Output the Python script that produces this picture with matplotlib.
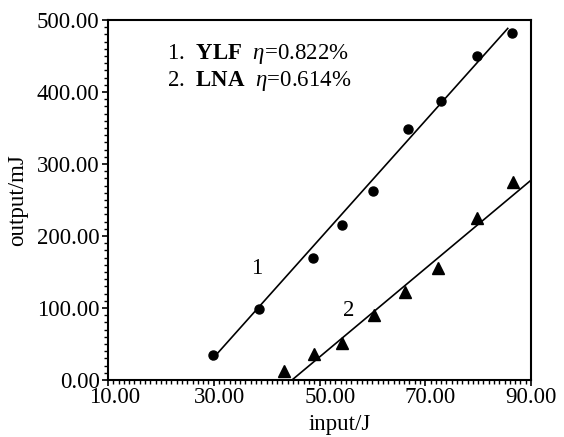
import matplotlib as mpl
mpl.use("Agg")
import matplotlib.pyplot as plt
import matplotlib.transforms as mtransforms
import numpy as np
from matplotlib.ticker import MultipleLocator, FormatStrFormatter


# Data
inputYLF = [29.8, 38.5, 48.8, 54.2, 60.1, 66.7, 73.0, 79.8, 86.4]
outputYLF = [35, 99, 169, 215, 262, 348, 387, 450, 482]

inputLNA = [43.3, 48.9, 54.2, 60.3, 66.1, 72.5, 79.8, 86.6]
outputLNA = [12, 36, 51, 90, 122, 156, 225, 275]

# fitted lines: slope in mJ/J, threshold in J, drawn range in J
slopeYLF, thresholdYLF, rangeYLF = 8.22, 26.2, [29.7, 85.6]
slopeLNA, thresholdLNA, rangeLNA = 6.14, 44.8, [44.8, 90.0]

xTicks = [10, 30, 50, 70, 90]
yTicks = [0, 100, 200, 300, 400, 500]


plt.rcParams['font.family'] = ['Liberation Serif', 'DejaVu Serif']
plt.rcParams['mathtext.fontset'] = 'custom'
plt.rcParams['mathtext.rm'] = 'Liberation Serif'
plt.rcParams['mathtext.it'] = 'Liberation Serif:italic'
plt.rcParams['mathtext.bf'] = 'Liberation Serif:bold'

fig = plt.figure(figsize=(5.64, 4.37), dpi=100)
ax = fig.add_axes([108/564, 1-380/437, 423/564, 360/437])

#points
ax.plot(inputYLF, outputYLF, 'o', color='black', markersize=6.5, clip_on=False)
ax.plot(inputLNA, outputLNA, '^', color='black', markersize=8.5, clip_on=False)

#fit lines
xLine = np.array(rangeYLF)
ax.plot(xLine, slopeYLF*(xLine - thresholdYLF), '-', color='black', linewidth=1.2)
xLine = np.array(rangeLNA)
ax.plot(xLine, slopeLNA*(xLine - thresholdLNA), '-', color='black', linewidth=1.2)

ax.set_xlim(10, 90)
ax.set_ylim(0, 500)
ax.set_xticks(xTicks)
ax.set_yticks(yTicks)
ax.xaxis.set_minor_locator(MultipleLocator(1))
ax.yaxis.set_minor_locator(MultipleLocator(10))
ax.xaxis.set_major_formatter(FormatStrFormatter('%.2f'))
ax.yaxis.set_major_formatter(FormatStrFormatter('%.2f'))

ax.tick_params(which='major', direction='out', length=4.5, width=1.2,
               labelsize=16.5, pad=1.5, colors='black')
ax.tick_params(axis='x', which='major', pad=0.5)
ax.tick_params(which='minor', direction='out', length=3, width=1.0)

# the scanned labels sit a little right of their ticks
labelShift = [7, 6, 11, 5, 0]
for lbl, dx in zip(ax.get_xticklabels(), labelShift):
    lbl.set_transform(lbl.get_transform() +
                      mtransforms.ScaledTranslation(dx/100, 0, fig.dpi_scale_trans))
#end-for

for spine in ax.spines.values():
    spine.set_linewidth(1.5)
#end-for

ax.set_xlabel('input/J', fontsize=16.5, labelpad=0)
ax.xaxis.set_label_coords(0.548, -0.095)
ax.set_ylabel('output/mJ', fontsize=16.5, labelpad=2)
ax.yaxis.set_label_coords(-0.19, 0.5)

#annotations
ax.text(0.14, 0.905, r'1.  $\mathbf{YLF}$  $\eta$=0.822%', transform=ax.transAxes,
        fontsize=16.5, va='center', ha='left')
ax.text(0.14, 0.83, r'2.  $\mathbf{LNA}$  $\eta$=0.614%', transform=ax.transAxes,
        fontsize=16.5, va='center', ha='left')
ax.text((257-108)/423, (380-268)/360, '1', transform=ax.transAxes,
        fontsize=16.5, va='center', ha='center')
ax.text((349-108)/423, (380-310)/360, '2', transform=ax.transAxes,
        fontsize=16.5, va='center', ha='center')

plt.savefig("out.png", dpi=100)
